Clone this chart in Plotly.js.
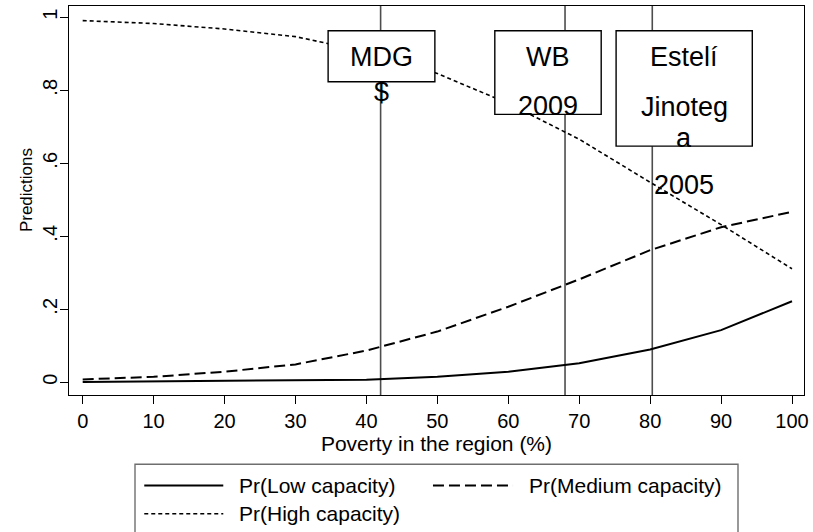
<!DOCTYPE html>
<html>
<head>
<meta charset="utf-8">
<script src="https://cdn.plot.ly/plotly-3.0.1.min.js"></script>
<style>html,body{margin:0;padding:0;background:#fff;}#chart{width:813px;height:532px;}</style>
</head>
<body>
<div id="chart"></div>
<script>
// ---- data ----
const poverty = [0, 10, 20, 30, 40, 50, 60, 70, 80, 90, 100];
const lowCap  = [0.001, 0.002, 0.003, 0.004, 0.007, 0.015, 0.029, 0.052, 0.090, 0.143, 0.222];
const medCap  = [0.008, 0.015, 0.029, 0.049, 0.087, 0.139, 0.207, 0.282, 0.362, 0.425, 0.467];
const highCap = [0.991, 0.983, 0.968, 0.947, 0.906, 0.846, 0.764, 0.666, 0.548, 0.432, 0.311];
const seriesNames = ["Pr(Low capacity)", "Pr(Medium capacity)", "Pr(High capacity)"];
const xTicks = [0, 10, 20, 30, 40, 50, 60, 70, 80, 90, 100];
const yTicks = [0, 0.2, 0.4, 0.6, 0.8, 1];
const yTickText = ["0", ".2", ".4", ".6", ".8", "1"];
const xTitle = "Poverty in the region (%)";
const yTitle = "Predictions";
const refLines = [42, 68, 80.3];
const refLabels = [["MDG", "$"], ["WB", "2009"], ["Estelí", "Jinoteg", "a", "2005"]];

// ---- styling ----
const FONT = "Liberation Sans, Arial, sans-serif";
const dashes = ["solid", "11px,5px", "4px,3px"];
const widths = [2, 2, 1.6];
const series = [lowCap, medCap, highCap];

const traces = series.map((ys, i) => ({
  x: poverty, y: ys, type: "scatter", mode: "lines", name: seriesNames[i],
  line: {color: "#000", width: widths[i], dash: dashes[i]}, showlegend: false, hoverinfo: "skip"
}));

const shapes = [];
const annotations = [];
// reference vertical lines
refLines.forEach(v => shapes.push({type: "line", xref: "x", yref: "paper", x0: v, x1: v, y0: 0, y1: 1,
  line: {color: "#4d4d4d", width: 1.6}, layer: "below"}));

// label boxes
const boxX = [[34.6, 49.65], [58.1, 73.1], [75.2, 94.4]];
const boxBottom = [0.8236, 0.734, 0.647];
const boxTop = 0.963;
boxX.forEach((bx, i) => shapes.push({type: "rect", xref: "x", yref: "y", x0: bx[0], x1: bx[1], y0: boxBottom[i], y1: boxTop,
  fillcolor: "#fff", line: {color: "#000", width: 1.4}, layer: "above"}));
const lineY = [[0.892, 0.796], [0.890, 0.757], [0.890, 0.755, 0.668, 0.541]];
refLabels.forEach((lines, i) => {
  const cx = (boxX[i][0] + boxX[i][1]) / 2;
  lines.forEach((t, j) => annotations.push({x: cx, y: lineY[i][j], xref: "x", yref: "y", text: t, showarrow: false,
    xanchor: "center", yanchor: "middle", font: {family: FONT, size: 27, color: "#000"}}));
});

// y-axis title
annotations.push({xref: "paper", yref: "paper", x: -0.057, y: 0.527, text: yTitle, textangle: -90, showarrow: false,
  xanchor: "center", yanchor: "middle", font: {family: FONT, size: 17, color: "#000"}});

// manual legend (paper coords)
shapes.push({type: "rect", xref: "paper", yref: "paper", x0: 0.0898, x1: 0.9102, y0: -0.1781, y1: -0.40,
  line: {color: "#6e6e6e", width: 1.4}, fillcolor: "rgba(0,0,0,0)"});
const legPos = [
  {lx0: 0.1024, lx1: 0.2099, tx: 0.2282, y: -0.2326},
  {lx0: 0.4952, lx1: 0.6041, tx: 0.6235, y: -0.2326},
  {lx0: 0.1024, lx1: 0.2099, tx: 0.2282, y: -0.3054}
];
legPos.forEach((p, i) => {
  shapes.push({type: "line", xref: "paper", yref: "paper", x0: p.lx0, x1: p.lx1, y0: p.y, y1: p.y,
    line: {color: "#000", width: widths[i], dash: dashes[i]}});
  annotations.push({xref: "paper", yref: "paper", x: p.tx, y: p.y, text: seriesNames[i], showarrow: false,
    xanchor: "left", yanchor: "middle", font: {family: FONT, size: 21, color: "#000"}});
});

const layout = {
  width: 813, height: 532,
  margin: {l: 69, r: 9, t: 6, b: 137, pad: 0},
  paper_bgcolor: "#fff", plot_bgcolor: "#fff",
  font: {family: FONT, color: "#000"},
  showlegend: false,
  xaxis: {range: [-1.93, 101.69], tickvals: xTicks, ticks: "outside", ticklen: 8, tickwidth: 1, tickcolor: "#000",
    showline: true, mirror: true, linecolor: "#000", linewidth: 1, showgrid: false, zeroline: false,
    tickfont: {family: FONT, size: 20, color: "#000"},
    title: {text: xTitle, font: {family: FONT, size: 21, color: "#000"}, standoff: 2}},
  yaxis: {range: [-0.0348, 1.031], tickvals: yTicks, ticktext: yTickText, tickangle: -90, ticks: "outside", ticklen: 8,
    tickwidth: 1, tickcolor: "#000", showline: true, mirror: true, linecolor: "#000", linewidth: 1,
    showgrid: false, zeroline: false, tickfont: {family: FONT, size: 20, color: "#000"}, ticklabelstandoff: -5},
  shapes: shapes,
  annotations: annotations
};

Plotly.newPlot("chart", traces, layout, {displayModeBar: false, staticPlot: true});
</script>
</body>
</html>
